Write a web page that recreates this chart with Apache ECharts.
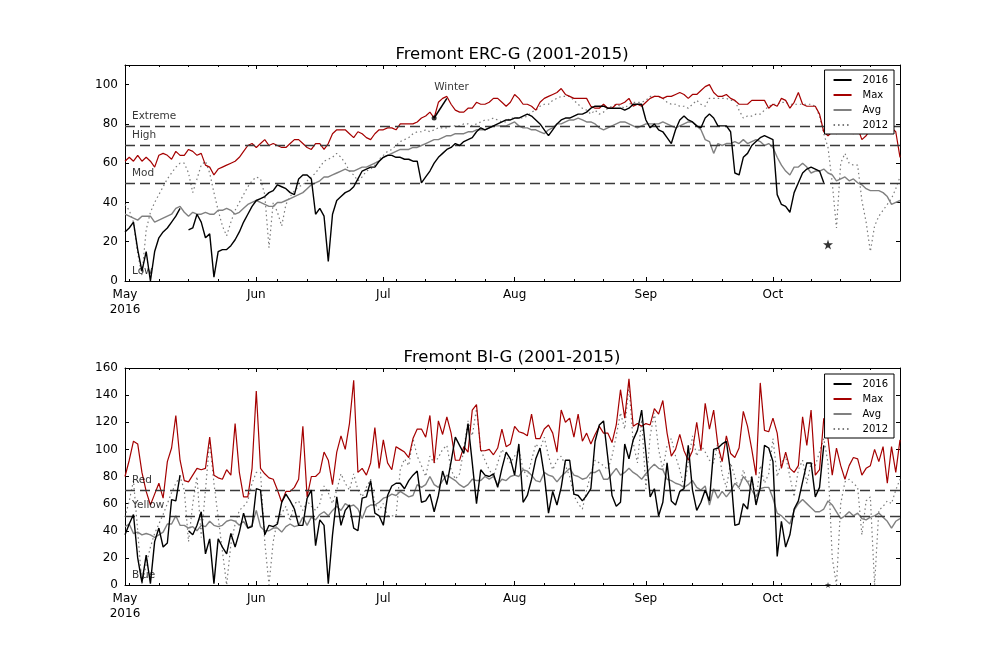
<!DOCTYPE html>
<html>
<head>
<meta charset="utf-8">
<title>Fremont ERC-G / BI-G</title>
<script src="https://cdn.jsdelivr.net/npm/echarts@6/dist/echarts.min.js"></script>
<style>
  html, body { margin: 0; padding: 0; background: #fff; }
  #chart { width: 1000px; height: 650px; }
</style>
</head>
<body>
<div id="chart"></div>
<script>
var startDate = '2016-05-01';
var dayCount = 184;
var monthLabels = ['May\n2016', 'Jun', 'Jul', 'Aug', 'Sep', 'Oct'];

// ERC-G panel
var erc2016 = [
  25, 27, 30, 16, 5, 15, 0, 15, 22, 25,
  27, 30, 33, 37, null, 26, 27, 34, 30, 22,
  24, 2, 15, 16, 16, 18, 21, 25, 30, 34,
  38, 41, 42, 43, 45, 46, 49, 48, 47, 45,
  44, 52, 54, 54, 52, 34, 37, 33, 10, 34,
  41, 43, 45, 46, 48, 52, 56, 57, 58, 58,
  61, 63, 64, 64, 63, 63, 62, 62, 61, 61,
  50, 53, 56, 60, 63, 65, 67, 68, 70, 69,
  71, 72, 73, 76, 78, 77, 78, 79, 80, 81,
  82, 82, 83, 83, 84, 85, 84, 82, 80, 77,
  74, 77, 80, 82, 83, 83, 84, 85, 85, 86,
  88, 89, 89, 89, 88, 88, 88, 88, 87, 88,
  90, 90, 90, 82, 78, 80, 77, 76, 73, 70,
  77, 82, 84, 82, 81, 79, 78, 83, 85, 83,
  79, 79, 79, 76, 55, 54, 63, 65, 69, 71,
  73, 74, 73, 72, 44, 39, 38, 35, 45, 50,
  55, 57, 58, 57, 56, 50
];
var ercMax = [
  61, 63, 61, 64, 61, 63, 61, 58, 64, 65,
  64, 62, 66, 64, 64, 67, 66, 64, 65, 59,
  58, 54, 57, 58, 59, 60, 61, 63, 66, 69,
  70, 68, 70, 72, 69, 70, 69, 68, 68, 70,
  72, 72, 70, 68, 67, 70, 70, 67, 70, 75,
  77, 77, 77, 75, 73, 76, 75, 73, 72, 75,
  77, 77, 78, 78, 77, 80, 80, 80, 80, 81,
  83, 84, 86, 83, 91, 93, 94, 90, 87, 86,
  86, 88, 88, 91, 90, 90, 91, 93, 93, 91,
  89, 91, 95, 93, 90, 90, 89, 87, 91, 93,
  94, 95, 96, 98, 95, 94, 93, 93, 93, 93,
  89, 88, 88, 90, 88, 88, 90, 90, 91, 93,
  89, 90, 89, 91, 93, 94, 94, 93, 94, 94,
  95, 96, 95, 93, 95, 95, 97, 99, 100, 96,
  94, 94, 95, 93, 92, 90, 90, 90, 92, 92,
  92, 92, 88, 90, 89, 93, 92, 88, 91, 96,
  90, 89, 89, 89, 85, 76, 74, 76, 75, 78,
  76, 77, 75, 78, 72, 74, 77, 78, 76, 79,
  77, 78, 76, 63
];
var ercAvg = [
  34, 33, 32, 31, 33, 33, 33, 30, 31, 32,
  33, 34, 37, 38, 35, 33, 35, 34, 34, 35,
  34, 34, 36, 36, 37, 36, 34, 35, 37, 39,
  40, 41, 40, 39, 38, 38, 40, 40, 41, 42,
  43, 44, 45, 47, 49, 50, 51, 53, 53, 54,
  55, 56, 57, 56, 56, 57, 58, 58, 59, 60,
  61, 63, 64, 65, 66, 67, 67, 67, 68, 68,
  69, 70, 71, 72, 72, 73, 74, 74, 75, 75,
  75, 76, 76, 77, 77, 77, 78, 79, 79, 79,
  79, 80, 81, 79, 78, 78, 77, 77, 76, 75,
  77, 78, 80, 80, 81, 82, 82, 83, 82, 81,
  81, 80, 78, 77, 78, 79, 80, 81, 81, 80,
  79, 78, 79, 80, 80, 80, 80, 81, 80, 79,
  78, 79, 80, 81, 81, 79, 77, 72, 71, 65,
  70, 69, 70, 70, 71, 70, 72, 70, 71, 72,
  71, 69, 70, 68, 63, 59, 56, 54, 58, 58,
  60, 58, 55, 56, 56, 57, 55, 54, 51, 52,
  53, 51, 52, 50, 49, 47, 46, 46, 46, 45,
  43, 39, 40, 41
];
var erc2012 = [
  39, 36, 30, 14, 3, 26, 35, 40, 44, 48,
  52, 55, 58, 60, 60, 55, 45, 52, 59, 61,
  55, 45, 36, 28, 23, 30, 36, 40, 44, 48,
  51, 53, 52, 44, 17, 40, 35, 28, 39, 43,
  46, 48, 49, 51, 53, 55, 58, 61, 62, 63,
  65, 63, 60, 56, 54, 51, 53, 56, 57, 59,
  62, 64, 66, 67, 69, 71, 72, 73, 75, 76,
  76, 77, 76, 77, 78, 78, 78, 79, 79, 79,
  80, 80, 79, 80, 81, 82, 82, 83, 82, 81,
  81, 83, 83, 83, 83, 84, 86, 87, 89, 90,
  90, 92, 93, 94, 94, 94, 92, 90, 88, 87,
  85, 87, 85, 86, 88, 89, 90, 89, 88, 90,
  91, 91, 91, 92, 94, 94, 94, 93, 91, 90,
  90, 89, 89, 88, 90, 92, 90, 89, 93, 93,
  93, 93, 93, 92, 92, 87, 83, 84, 84, 85,
  85, 87, 89, 90, 90, 91, 91, 90, 90, 90,
  90, 90, 90, 89, 84, 75, 68, 50, 27, 60,
  65, 60, 59, 59, 41, 30, 15, 28, 33, 36,
  39, 42, 47, 53
];
var ercLevels = [79, 69, 50];
var ercLevelNames = ['Extreme', 'High', 'Mod', 'Low'];
var ercLevelNameValues = [84, 74, 55, 5];

// BI-G panel
var bi2016 = [
  37, 45, 52, 20, 2, 22, 1, 32, 42, 28,
  31, 63, 62, 81, null, 40, 37, 44, 54, 23,
  34, 1, 34, 28, 23, 38, 28, 39, 53, 42,
  43, 71, 70, 37, 44, 43, 45, 61, 67, 62,
  56, 44, 44, 64, 70, 29, 48, 44, 1, 37,
  65, 44, 55, 59, 42, 40, 64, 65, 77, 53,
  51, 44, 66, 73, 75, 75, 71, 77, 81, 84,
  61, 62, 67, 54, 66, 84, 74, 91, 109, 103,
  97, 119, 90, 60, 85, 81, 80, 82, 72, 86,
  98, 93, 81, 104, 61, 66, 78, 93, 101, 81,
  53, 69, 59, 72, 92, 92, 67, 66, 62, 66,
  71, 106, 118, 121, 94, 66, 58, 61, 104, 93,
  107, 114, 129, 98, 65, 71, 51, 61, 90, 62,
  59, 69, 71, 103, 70, 55, 61, 70, 62, 100,
  101, 104, 106, 83, 44, 45, 60, 56, 80, 59,
  72, 103, 101, 91, 21, 47, 28, 37, 56, 62,
  76, 90, 90, 65, 72, 103
];
var biMax = [
  80, 92, 106, 104, 83, 69, 59, 67, 75, 64,
  91, 101, 125, 92, 77, 76, 81, 86, 85, 86,
  109, 81, 79, 78, 85, 81, 119, 83, 65, 65,
  86, 143, 86, 82, 79, 78, 70, 61, 69, 69,
  72, 78, 117, 65, 80, 80, 83, 98, 92, 74,
  98, 110, 100, 119, 151, 83, 86, 81, 90, 116,
  86, 107, 90, 85, 102, 100, 98, 94, 108, 115,
  115, 109, 125, 90, 121, 111, 124, 112, 92, 92,
  102, 98, 129, 133, 99, 99, 100, 96, 101, 115,
  102, 104, 117, 113, 112, 110, 126, 108, 108, 115,
  118, 112, 98, 129, 120, 123, 109, 126, 106, 112,
  104, 111, 117, 112, 112, 105, 118, 144, 123, 152,
  117, 119, 117, 119, 118, 130, 126, 136, 112, 95,
  100, 111, 99, 92, 99, 120, 99, 134, 115, 129,
  103, 91, 110, 97, 94, 101, 128, 117, 100, 81,
  149, 114, 113, 123, 112, 86, 98, 86, 83, 88,
  124, 103, 129, 81, 85, 123, 108, 81, 101, 88,
  78, 88, 94, 93, 81, 86, 88, 100, 91, 102,
  75, 102, 83, 107
];
var biAvg = [
  43, 45, 38, 39, 37, 38, 37, 35, 37, 39,
  45, 45, 51, 44, 44, 42, 43, 40, 44, 43,
  47, 44, 43, 44, 47, 48, 47, 44, 47, 42,
  44, 55, 43, 40, 40, 42, 42, 39, 43, 45,
  43, 44, 50, 44, 50, 48, 52, 54, 51, 55,
  58, 55, 60, 58, 59, 56, 49, 57, 59, 59,
  61, 64, 65, 67, 66, 69, 67, 65, 66, 74,
  72, 74, 80, 74, 72, 77, 81, 79, 77, 74,
  72, 74, 78, 77, 77, 80, 78, 80, 74, 78,
  77, 80, 81, 80, 85, 84, 81, 77, 76, 83,
  81, 80, 76, 80, 83, 86, 81, 80, 78, 79,
  83, 83, 85, 78, 78, 82, 86, 81, 83, 86,
  83, 81, 78, 82, 86, 89, 86, 85, 78, 77,
  75, 74, 72, 74, 77, 72, 70, 73, 59, 71,
  64, 69, 65, 69, 75, 72, 80, 76, 70, 65,
  71, 72, 72, 64, 53, 51, 48, 45, 55, 60,
  63, 60, 57, 54, 54, 56, 62, 59, 54, 49,
  51, 54, 51, 53, 49, 48, 50, 51, 53, 50,
  47, 42, 47, 49
];
var bi2012 = [
  50, 62, 77, 40, 0, 15, 28, 38, 45, 52,
  60, 68, 75, 80, 70, 32, 60, 80, 35, 70,
  106, 75, 50, 25, 0, 30, 45, 55, 58, 62,
  75, 83, 83, 32, 0, 32, 48, 53, 58, 47,
  60, 62, 55, 62, 58, 55, 60, 73, 68, 60,
  70, 82, 75, 70, 82, 70, 65, 72, 78, 60,
  55, 60, 51, 51, 51, 85, 93, 88, 108, 95,
  88, 80, 95, 90, 94, 100, 103, 85, 78, 82,
  100, 121, 110, 130, 100, 92, 85, 80, 90, 100,
  95, 90, 95, 100, 85, 80, 92, 104, 100, 109,
  95, 85, 92, 95, 88, 80, 66, 60, 56, 70,
  82, 92, 90, 88, 85, 95, 110, 127, 115, 148,
  105, 90, 122, 71, 110, 127, 100, 85, 103, 108,
  95, 85, 72, 90, 110, 95, 103, 98, 92, 90,
  105, 82, 72, 90, 80, 70, 85, 75, 80, 62,
  88, 75, 82, 108, 80, 90, 95, 80, 65, 85,
  92, 75, 90, 88, 98, 108, 90, 20, 0, 60,
  76, 78, 75, 72, 37, 62, 65, 0, 55, 58,
  62, 60, 70, 78
];
var biLevels = [70, 51];
var biLevelNames = ['Red', 'Yellow', 'Blue'];
var biLevelNameValues = [77, 59, 7];

// annotations
var winterPoint = [73, 83];
var winterArrowEnd = [76, 93];
var winterLabelAt = [73, 98.5];
var ercStar = [166, 18.6];
var biStar = [166, 0];

var fontFamily = 'DejaVu Sans';
var starPath = 'path://M50,0 L61,35 L98,35 L68,57 L79,91 L50,70 L21,91 L32,57 L2,35 L39,35 Z';

// daily categories
var dates = [];
var t0 = new Date(startDate + 'T00:00:00Z').getTime();
for (var i = 0; i < dayCount; i++) {
  dates.push(new Date(t0 + i * 86400000).toISOString().slice(0, 10));
}
var monthStart = {};
var m = 0;
dates.forEach(function (s, idx) {
  if (s.slice(8) === '01') { monthStart[idx] = monthLabels[m++]; }
});
function isMajor(idx) { return monthStart[idx] !== undefined; }
function isMinor(idx) {
  return !isMajor(idx) && new Date(dates[idx] + 'T00:00:00Z').getUTCDay() === 1;
}

function makeXAxis(gridIndex, position, major, withLabels) {
  return {
    type: 'category',
    gridIndex: gridIndex,
    position: position,
    data: dates,
    boundaryGap: false,
    axisLine: { show: major, onZero: false, lineStyle: { color: '#000', width: 1 } },
    axisTick: {
      show: true, inside: true, length: major ? 4 : 2,
      interval: function (idx) { return major ? isMajor(idx) : isMinor(idx); },
      lineStyle: { color: '#000' }
    },
    axisLabel: {
      show: withLabels,
      interval: function (idx) { return isMajor(idx); },
      formatter: function (v, idx) { return monthStart[idx] || ''; },
      color: '#000', fontSize: 12, fontFamily: fontFamily, margin: 6, lineHeight: 15
    },
    splitLine: { show: false }
  };
}

function makeYAxis(gridIndex, position, max, interval, withLabels) {
  return {
    type: 'value',
    gridIndex: gridIndex,
    position: position,
    min: 0, max: max, interval: interval,
    axisLine: { show: true, onZero: false, lineStyle: { color: '#000', width: 1 } },
    axisTick: { show: true, inside: true, length: 4, lineStyle: { color: '#000' } },
    axisLabel: {
      show: withLabels, color: '#000', fontSize: 12, fontFamily: fontFamily, margin: 7,
      showMaxLabel: max % interval === 0
    },
    splitLine: { show: false }
  };
}

function lineSeries(name, data, xi, yi, color, width, dash, z) {
  return {
    name: name, type: 'line', data: data,
    xAxisIndex: xi, yAxisIndex: yi,
    showSymbol: false, symbol: 'none', connectNulls: false, z: z,
    lineStyle: { color: color, width: width, type: dash || 'solid' },
    itemStyle: { color: color },
    emphasis: { disabled: true }
  };
}

function levelLines(values) {
  return {
    silent: true, symbol: 'none', animation: false,
    label: { show: false },
    lineStyle: { color: '#3a3a3a', width: 1.3, type: [10, 5] },
    data: values.map(function (v) { return { yAxis: v }; })
  };
}

function levelLabels(names, values, xi, yi) {
  return {
    type: 'scatter', xAxisIndex: xi, yAxisIndex: yi, symbolSize: 0, silent: true, z: 5,
    itemStyle: { color: 'transparent' },
    data: names.map(function (n, k) { return { name: n, value: [0, values[k]] }; }),
    label: { show: true, position: 'right', distance: 7, formatter: '{b}', color: '#000', fontSize: 10.5, fontFamily: fontFamily }
  };
}

function legendFor(top) {
  return {
    data: ['2016', 'Max', 'Avg', '2012'],
    orient: 'vertical', right: 106, top: top,
    z: 30,
    selectedMode: false,
    backgroundColor: '#fff', borderColor: '#000', borderWidth: 1, borderRadius: 0,
    padding: [5, 6, 4, 8],
    itemWidth: 18, itemHeight: 10, itemGap: 5,
    itemStyle: { opacity: 0 },
    textStyle: { color: '#000', fontSize: 10, fontFamily: fontFamily, padding: [0, 0, 0, 6] }
  };
}

var red = '#a50000';
var avgGray = '#808080';
var dotGray = '#7a7a7a';

var option = {
  animation: false,
  backgroundColor: '#fff',
  textStyle: { fontFamily: fontFamily },
  title: [
    { text: 'Fremont ERC-G (2001-2015)', left: 507, top: 41, textAlign: 'center',
      textStyle: { fontSize: 16.5, fontWeight: 'normal', color: '#000', fontFamily: fontFamily } },
    { text: 'Fremont BI-G (2001-2015)', left: 507, top: 344, textAlign: 'center',
      textStyle: { fontSize: 16.5, fontWeight: 'normal', color: '#000', fontFamily: fontFamily } }
  ],
  legend: [legendFor(70), legendFor(374)],
  grid: [
    { left: 125, right: 100, top: 65, height: 216, containLabel: false },
    { left: 125, right: 100, top: 368, height: 217, containLabel: false }
  ],
  xAxis: [
    makeXAxis(0, 'bottom', true, true),
    makeXAxis(0, 'bottom', false, false),
    makeXAxis(0, 'top', true, false),
    makeXAxis(0, 'top', false, false),
    makeXAxis(1, 'bottom', true, true),
    makeXAxis(1, 'bottom', false, false),
    makeXAxis(1, 'top', true, false),
    makeXAxis(1, 'top', false, false)
  ],
  yAxis: [
    makeYAxis(0, 'left', 110, 20, true),
    makeYAxis(0, 'right', 110, 20, false),
    makeYAxis(1, 'left', 160, 20, true),
    makeYAxis(1, 'right', 160, 20, false)
  ],
  series: [
    // ERC-G
    (function () {
      var s = lineSeries('2012', erc2012, 0, 0, dotGray, 1.2, [1.5, 3], 2);
      s.markLine = levelLines(ercLevels);
      return s;
    })(),
    lineSeries('Avg', ercAvg, 0, 0, avgGray, 1.4, null, 3),
    lineSeries('Max', ercMax, 0, 0, red, 1.2, null, 4),
    lineSeries('2016', erc2016, 0, 0, '#000', 1.4, null, 5),
    levelLabels(ercLevelNames, ercLevelNameValues, 0, 0),
    {
      type: 'scatter', xAxisIndex: 0, yAxisIndex: 0, silent: true, z: 6,
      symbolSize: 5, itemStyle: { color: '#000' },
      data: [winterPoint],
      markLine: {
        silent: true, symbol: 'none', animation: false, label: { show: false },
        lineStyle: { color: '#000', width: 1.5, type: 'solid' },
        data: [[
          { coord: [dates[winterPoint[0]], winterPoint[1]] },
          { coord: [dates[winterArrowEnd[0]], winterArrowEnd[1]] }
        ]]
      }
    },
    {
      type: 'scatter', xAxisIndex: 0, yAxisIndex: 0, silent: true, z: 6,
      symbolSize: 0, itemStyle: { color: 'transparent' },
      data: [{ name: 'Winter', value: winterLabelAt }],
      label: { show: true, position: 'right', distance: 0, formatter: '{b}', color: '#000', fontSize: 10.5, fontFamily: fontFamily }
    },
    {
      type: 'scatter', xAxisIndex: 0, yAxisIndex: 0, silent: true, z: 6,
      symbol: starPath, symbolSize: 10, itemStyle: { color: '#000' },
      data: [ercStar]
    },
    // BI-G
    (function () {
      var s = lineSeries('2012', bi2012, 4, 2, dotGray, 1.2, [1.5, 3], 2);
      s.markLine = levelLines(biLevels);
      return s;
    })(),
    lineSeries('Avg', biAvg, 4, 2, avgGray, 1.4, null, 3),
    lineSeries('Max', biMax, 4, 2, red, 1.2, null, 4),
    lineSeries('2016', bi2016, 4, 2, '#000', 1.4, null, 5),
    levelLabels(biLevelNames, biLevelNameValues, 4, 2),
    {
      type: 'scatter', xAxisIndex: 4, yAxisIndex: 2, silent: true, z: 6,
      symbol: starPath, symbolSize: 6, itemStyle: { color: '#000' },
      data: [biStar]
    }
  ]
};

var chart = echarts.init(document.getElementById('chart'), null, { renderer: 'canvas' });
chart.setOption(option);
</script>
</body>
</html>
